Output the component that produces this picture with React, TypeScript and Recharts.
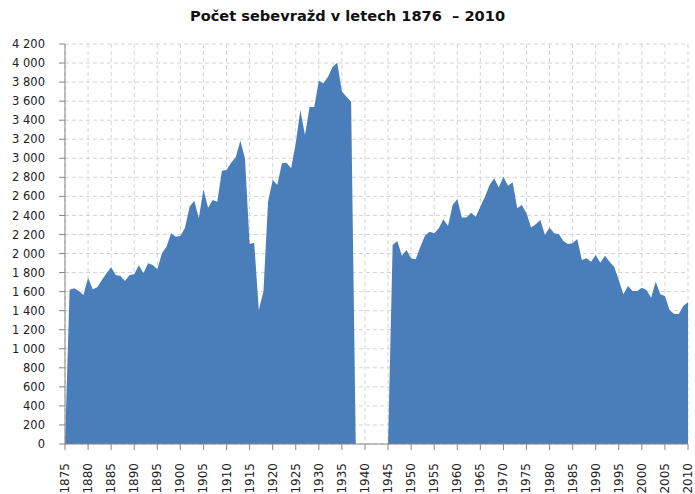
import React from "react";
import { AreaChart, Area, XAxis, YAxis, CartesianGrid } from "recharts";

const years: number[] = [];
for (let y = 1875; y <= 2010; y++) years.push(y);

const prewar = [
  0, 1620, 1635, 1606, 1565, 1746, 1624, 1645, 1722, 1792, 1855,
  1775, 1764, 1711, 1775, 1782, 1876, 1792, 1897, 1880, 1834,
  2002, 2072, 2212, 2177, 2184, 2270, 2492, 2555, 2370, 2674,
  2481, 2562, 2544, 2870, 2877, 2954, 3010, 3185, 3000, 2100,
  2114, 1407, 1600, 2544, 2772, 2720, 2947, 2954, 2895, 3157,
  3507, 3245, 3542, 3535, 3815, 3787, 3857, 3962, 4004, 3700,
  3647, 3594,
]; // 1875..1937

const warGap = [0, 0, 0, 0, 0, 0, 0, 0]; // 1938..1945

const postwar = [
  2090, 2132, 1977, 2037, 1950, 1939, 2072, 2187, 2229, 2212,
  2265, 2359, 2289, 2510, 2569, 2377, 2377, 2429, 2387, 2492,
  2597, 2720, 2790, 2692, 2807, 2712, 2748, 2475, 2510, 2422,
  2272, 2307, 2352, 2195, 2272, 2212, 2205, 2132, 2100, 2107,
  2152, 1932, 1950, 1914, 1985, 1904, 1977, 1914, 1862, 1722,
  1572, 1659, 1606, 1606, 1641, 1617, 1536, 1704, 1572, 1554,
  1407, 1365, 1365, 1452, 1488,
]; // 1946..2010

const suicides = [...prewar, ...warGap, ...postwar];

const xTicks: number[] = [];
for (let y = 1875; y <= 2010; y += 5) xTicks.push(y);

const yTicks: number[] = [];
for (let v = 0; v <= 4200; v += 200) yTicks.push(v);

const data = years.map((year, i) => ({ year, value: suicides[i] }));

const fmt = (n: number) =>
  n >= 1000 ? `${Math.floor(n / 1000)} ${String(n % 1000).padStart(3, "0")}` : String(n);

const FONT = "'DejaVu Sans', sans-serif";

const XTick = (props: any) => {
  const { x, y, payload } = props;
  return (
    <g transform={`translate(${x},${y})`}>
      <text
        x={0}
        y={0}
        dx={-11}
        dy={4}
        transform="rotate(-90)"
        textAnchor="end"
        fontSize={12}
        fontFamily={FONT}
        fill="#222"
      >
        {payload.value}
      </text>
    </g>
  );
};

export default function App() {
  return (
    <div style={{ position: "absolute", left: 0, top: 0, width: 695, height: 494, background: "#fff" }}>
      <div
        style={{
          position: "absolute",
          left: 0,
          top: 7,
          width: 695,
          textAlign: "center",
          fontFamily: FONT,
          fontWeight: "bold",
          fontSize: 14.6,
          color: "#111",
        }}
      >
        Počet sebevražd v letech 1876&nbsp; – 2010
      </div>
      <AreaChart
        width={695}
        height={494}
        data={data}
        margin={{ top: 44, right: 7, bottom: 0, left: 0 }}
      >
        <CartesianGrid
          stroke="#d4d4d4"
          strokeDasharray="4 3"
          horizontalValues={yTicks}
          verticalValues={xTicks}
        />
        <XAxis
          dataKey="year"
          type="number"
          domain={[1875, 2010]}
          ticks={xTicks}
          interval={0}
          height={50}
          tick={<XTick />}
          tickSize={6}
          stroke="#868686"
          tickLine={{ stroke: "#868686" }}
        />
        <YAxis
          type="number"
          domain={[0, 4200]}
          ticks={yTicks}
          interval={0}
          width={65}
          tickSize={6}
          tickMargin={14}
          tickFormatter={fmt}
          stroke="#868686"
          tick={{ fontSize: 11.5, fontFamily: FONT, fill: "#222" }}
        />
        <Area
          type="linear"
          dataKey="value"
          stroke="none"
          fill="#4a7ebb"
          fillOpacity={1}
          isAnimationActive={false}
        />
      </AreaChart>
    </div>
  );
}
